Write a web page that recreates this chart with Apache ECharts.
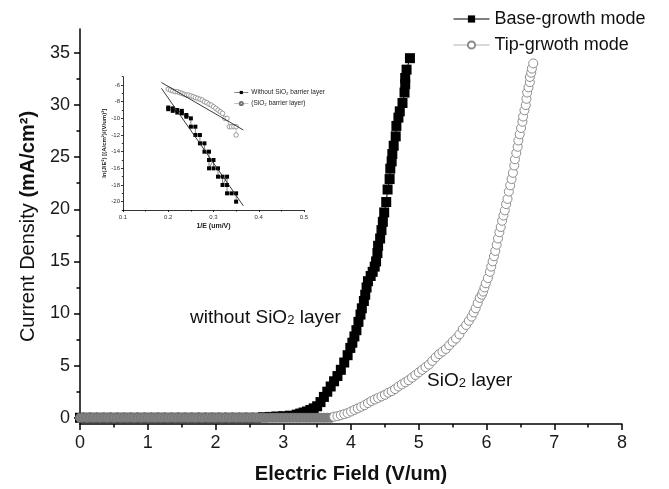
<!DOCTYPE html>
<html>
<head>
<meta charset="utf-8">
<script src="https://cdn.jsdelivr.net/npm/echarts@6/dist/echarts.min.js"></script>
<style>html,body{margin:0;padding:0;background:#fff}#c{width:669px;height:489px}</style>
</head>
<body>
<div id="c"></div>
<script>
// ---------- DATA ----------
const xTickValues = [0, 1, 2, 3, 4, 5, 6, 7, 8];
const yTickValues = [0, 5, 10, 15, 20, 25, 30, 35];
const yMinorTickValues = [2.5, 7.5, 12.5, 17.5, 22.5, 27.5, 32.5];
const insetYTickValues = [-20, -18, -16, -14, -12, -10, -8, -6];
const insetYMinorTickValues = [-21, -19, -17, -15, -13, -11, -9, -7, -5];

const seriesNames = ['Base-growth mode', 'Tip-grwoth mode'];
const insetNames = ['Without SiO\u2082 barrier layer', '(SiO\u2082 barrier layer)'];

// Base-growth mode (black squares): [E (V/um), J (mA/cm2)]
const baseGrowth = [
  [0,0],[0.1,0],[0.2,0],[0.3,0],[0.4,0],[0.5,0],[0.6,0],[0.7,0],[0.8,0],[0.9,0],
  [1.0,0],[1.1,0],[1.2,0],[1.3,0],[1.4,0],[1.5,0],[1.6,0],[1.7,0],[1.8,0],[1.9,0],
  [2.0,0],[2.1,0],[2.2,0],[2.3,0],[2.4,0],[2.5,0],[2.6,0],
  [2.7,0.05],[2.8,0.08],[2.9,0.12],[3.0,0.15],[3.1,0.2],[3.2,0.3],[3.25,0.4],[3.3,0.5],
  [3.35,0.6],[3.4,0.75],[3.45,0.9],[3.5,1.1],[3.55,1.5],[3.6,2.0],[3.65,2.5],[3.7,3.0],
  [3.75,3.5],[3.8,4.0],[3.85,4.6],[3.9,5.3],[3.95,6.0],[3.99,6.7],[4.02,7.2],[4.05,7.8],
  [4.08,8.4],[4.11,9.2],[4.14,9.9],[4.16,10.5],[4.19,11.2],[4.21,11.8],[4.23,12.5],
  [4.25,13.1],[4.29,13.6],[4.32,14.0],[4.35,14.5],[4.37,15.0],[4.39,15.8],[4.40,16.5],
  [4.43,17.2],[4.45,18.0],[4.47,18.8],[4.49,19.7],[4.52,20.7],[4.54,21.9],[4.57,22.9],
  [4.58,23.9],[4.60,24.6],[4.61,25.3],[4.63,26.1],[4.66,27.0],[4.67,28.0],[4.70,28.8],
  [4.72,29.4],[4.76,30.2],[4.79,31.2],[4.80,32.0],[4.80,32.6],[4.82,33.4],[4.87,34.5]
];

// Tip-growth mode (open circles)
const tipGrowth = [
  [0,0],[0.05,0],[0.1,0],[0.15,0],[0.2,0],[0.25,0],[0.3,0],[0.35,0],[0.4,0],[0.45,0],
  [0.5,0],[0.55,0],[0.6,0],[0.65,0],[0.7,0],[0.75,0],[0.8,0],[0.85,0],[0.9,0],[0.95,0],
  [1.0,0],[1.05,0],[1.1,0],[1.15,0],[1.2,0],[1.25,0],[1.3,0],[1.35,0],[1.4,0],[1.45,0],
  [1.5,0],[1.55,0],[1.6,0],[1.65,0],[1.7,0],[1.75,0],[1.8,0],[1.85,0],[1.9,0],[1.95,0],
  [2.0,0],[2.05,0],[2.1,0],[2.15,0],[2.2,0],[2.25,0],[2.3,0],[2.35,0],[2.4,0],[2.45,0],
  [2.5,0],[2.55,0],[2.6,0],[2.65,0],[2.7,0],[2.75,0],[2.8,0],[2.85,0],[2.9,0],[2.95,0],
  [3.0,0],[3.05,0],[3.1,0],[3.15,0],[3.2,0],[3.25,0],[3.3,0],[3.35,0],[3.4,0],[3.45,0],
  [3.5,0],[3.55,0],[3.6,0],[3.65,0],[3.7,0],
  [3.75,0.1],[3.8,0.15],[3.85,0.25],[3.9,0.35],[3.95,0.45],[4.0,0.6],[4.05,0.75],
  [4.1,0.9],[4.15,1.05],[4.2,1.2],[4.25,1.4],[4.3,1.6],[4.35,1.75],[4.4,1.9],[4.45,2.05],
  [4.5,2.2],[4.55,2.4],[4.6,2.55],[4.65,2.75],[4.7,3.0],[4.75,3.2],[4.8,3.4],[4.85,3.6],
  [4.9,3.85],[4.95,4.1],[5.0,4.35],[5.05,4.6],[5.1,4.85],[5.15,5.1],[5.2,5.45],[5.25,5.8],
  [5.3,6.1],[5.35,6.35],[5.4,6.6],[5.45,6.95],[5.5,7.3],[5.55,7.6],[5.6,8.0],[5.65,8.5],
  [5.7,8.9],[5.74,9.3],[5.78,9.7],[5.81,10.1],[5.84,10.5],[5.87,11.0],[5.90,11.5],
  [5.93,11.8],[5.95,12.1],[5.97,12.5],[5.99,12.9],[6.02,13.4],[6.05,14.0],[6.07,14.5],
  [6.09,15.0],[6.11,15.5],[6.13,16.0],[6.15,16.6],[6.17,17.2],[6.19,17.8],[6.21,18.3],
  [6.23,18.9],[6.25,19.4],[6.27,19.9],[6.29,20.5],[6.31,21.0],[6.33,21.7],[6.35,22.3],
  [6.37,22.9],[6.39,23.5],[6.41,24.2],[6.42,24.8],[6.44,25.4],[6.46,26.0],[6.47,26.6],
  [6.49,27.2],[6.51,27.8],[6.53,28.4],[6.54,28.9],[6.56,29.5],[6.58,30.0],[6.59,30.6],
  [6.60,31.2],[6.62,31.7],[6.64,32.2],[6.64,32.7],[6.66,33.1],[6.67,33.5],[6.69,34.0]
];

// Inset: Fowler-Nordheim plot [1/E (um/V), ln(J/E^2)]
const insetWithout = [
  [0.200,-8.7],[0.200,-8.9],[0.210,-8.8],[0.210,-9.1],[0.220,-9.0],[0.220,-9.3],
  [0.230,-9.1],[0.230,-9.4],[0.240,-9.6],[0.240,-9.8],[0.250,-10.0],[0.250,-11.0],
  [0.260,-11.0],[0.260,-12.0],[0.270,-12.0],[0.270,-13.0],[0.280,-13.0],[0.280,-14.0],
  [0.290,-14.0],[0.290,-15.0],[0.290,-16.0],[0.300,-15.0],[0.300,-16.0],[0.310,-16.0],
  [0.310,-17.0],[0.320,-17.0],[0.320,-18.0],[0.330,-17.0],[0.330,-18.0],[0.330,-19.0],
  [0.340,-19.0],[0.350,-19.0],[0.350,-20.0]
];
const insetBarrier = [
  [0.200,-6.5],[0.205,-6.6],[0.210,-6.7],[0.215,-6.8],[0.220,-6.8],[0.225,-6.9],
  [0.230,-7.0],[0.235,-7.1],[0.240,-7.2],[0.245,-7.2],[0.250,-7.3],[0.255,-7.4],
  [0.260,-7.5],[0.265,-7.6],[0.270,-7.7],[0.275,-7.8],[0.280,-8.0],[0.285,-8.1],
  [0.290,-8.3],[0.295,-8.4],[0.300,-8.6],[0.305,-8.8],[0.310,-9.0],[0.315,-9.2],
  [0.320,-9.4],[0.325,-10.0],[0.330,-10.0],[0.335,-11.0],[0.340,-11.0],[0.345,-11.0],
  [0.350,-11.0],[0.350,-12.0]
];
const fitWithout = [[0.185,-6.4],[0.366,-20.5]];
const fitBarrier = [[0.185,-5.7],[0.366,-11.4]];

// ---------- CHART ----------
const FONT = '"Liberation Sans", Arial, sans-serif';
const chart = echarts.init(document.getElementById('c'), null, {renderer: 'canvas'});

const tipData = tipGrowth.map(p => p[1] === 0
  ? {value: p, itemStyle: {color: '#808080', borderColor: '#777'}}
  : {value: p});

const axisLineStyle = {color: '#000', width: 1.5};

const option = {
  animation: false,
  backgroundColor: '#fff',
  textStyle: {fontFamily: FONT},
  grid: [
    {left: 80, right: 47, top: 29, bottom: 62.7},
    {left: 123, right: 365, top: 76.7, bottom: 279}
  ],
  legend: [
    {
      data: seriesNames, orient: 'vertical', left: 448, top: 5,
      itemWidth: 36, itemHeight: 9, itemGap: 8,
      lineStyle: {width: 1},
      textStyle: {fontSize: 18, color: '#111', fontFamily: FONT}
    },
    {
      data: insetNames, orient: 'vertical', left: 229, top: 84,
      itemWidth: 14, itemHeight: 4, itemGap: 4,
      lineStyle: {width: 0.6},
      textStyle: {fontSize: 6.5, color: '#222', fontFamily: FONT, padding: [0,0,0,-2]}
    }
  ],
  xAxis: [
    {
      gridIndex: 0, type: 'value', min: 0, max: 8, interval: 1,
      axisLine: {onZero: false, lineStyle: axisLineStyle},
      axisTick: {length: 6, lineStyle: axisLineStyle},
      minorTick: {show: true, splitNumber: 2, length: 3.5, lineStyle: axisLineStyle},
      axisLabel: {fontSize: 18, color: '#1a1a1a', margin: 10},
      splitLine: {show: false},
      name: 'Electric Field (V/um)', nameLocation: 'middle', nameGap: 40,
      nameTextStyle: {fontSize: 20, fontWeight: 'bold', color: '#111'}
    },
    {
      gridIndex: 1, type: 'value', min: 0.1, max: 0.5, interval: 0.1,
      axisLine: {onZero: false, lineStyle: {color: '#000', width: 0.8}},
      axisTick: {length: 2, lineStyle: {color: '#000', width: 0.8}},
      minorTick: {show: true, splitNumber: 2, length: 1.5, lineStyle: {color: '#000', width: 0.8}},
      axisLabel: {fontSize: 6, color: '#333', margin: 4},
      splitLine: {show: false},
      name: '1/E (um/V)', nameLocation: 'middle', nameGap: 13,
      nameTextStyle: {fontSize: 7, fontWeight: 'bold', color: '#222'}
    }
  ],
  yAxis: [
    {
      gridIndex: 0, type: 'value', min: -0.6, max: 37.3,
      axisLine: {show: true, onZero: false, lineStyle: axisLineStyle},
      axisTick: {show: true, length: 6, customValues: yTickValues, lineStyle: axisLineStyle},
      axisLabel: {fontSize: 18, color: '#1a1a1a', margin: 10, customValues: yTickValues},
      splitLine: {show: false},
      name: 'Current Density {b|(mA/cm\u00B2)}', nameLocation: 'middle', nameGap: 42,
      nameTextStyle: {fontSize: 20, color: '#111', rich: {b: {fontSize: 20, fontWeight: 'bold', color: '#111'}}}
    },
    {
      gridIndex: 0, type: 'value', min: -0.6, max: 37.3, position: 'left',
      axisLine: {show: false},
      axisTick: {show: true, length: 3.5, customValues: yMinorTickValues, lineStyle: axisLineStyle},
      axisLabel: {show: false},
      splitLine: {show: false}
    },
    {
      gridIndex: 1, type: 'value', min: -21, max: -5,
      axisLine: {show: true, onZero: false, lineStyle: {color: '#000', width: 0.8}},
      axisTick: {show: true, length: 2, customValues: insetYTickValues, lineStyle: {color: '#000', width: 0.8}},
      axisLabel: {fontSize: 6, color: '#333', margin: 3, customValues: insetYTickValues},
      splitLine: {show: false},
      name: 'ln(J/E\u00B2) [(A/cm\u00B2)/(V/um)\u00B2]', nameLocation: 'middle', nameGap: 13,
      nameTextStyle: {fontSize: 6, fontWeight: 'bold', color: '#222'}
    },
    {
      gridIndex: 1, type: 'value', min: -21, max: -5, position: 'left',
      axisLine: {show: false},
      axisTick: {show: true, length: 1.2, customValues: insetYMinorTickValues, lineStyle: {color: '#000', width: 0.8}},
      axisLabel: {show: false},
      splitLine: {show: false}
    }
  ],
  series: [
    {
      name: seriesNames[0], type: 'line', xAxisIndex: 0, yAxisIndex: 0,
      data: baseGrowth, symbol: 'rect', symbolSize: 10, showAllSymbol: true,
      itemStyle: {color: '#000'}, lineStyle: {color: '#000', width: 1}, z: 2
    },
    {
      name: seriesNames[1], type: 'line', xAxisIndex: 0, yAxisIndex: 0,
      data: tipData, symbol: 'circle', symbolSize: 9, showAllSymbol: true,
      itemStyle: {color: '#fff', borderColor: '#8c8c8c', borderWidth: 1},
      lineStyle: {color: '#b0b0b0', width: 1}, z: 3
    },
    {
      name: insetNames[0], type: 'line', xAxisIndex: 1, yAxisIndex: 2,
      data: insetWithout, symbol: 'rect', symbolSize: 4, showAllSymbol: true,
      itemStyle: {color: '#000'}, lineStyle: {color: '#333', width: 0.6}, z: 4
    },
    {
      name: insetNames[1], type: 'line', xAxisIndex: 1, yAxisIndex: 2,
      data: insetBarrier, symbol: 'circle', symbolSize: 4.5, showAllSymbol: true,
      itemStyle: {color: '#fff', borderColor: '#777', borderWidth: 0.7},
      lineStyle: {color: '#999', width: 0.6}, z: 4
    },
    {
      name: 'fitWithout', type: 'line', xAxisIndex: 1, yAxisIndex: 2,
      data: fitWithout, symbol: 'none', lineStyle: {color: '#222', width: 0.9}, z: 5
    },
    {
      name: 'fitBarrier', type: 'line', xAxisIndex: 1, yAxisIndex: 2,
      data: fitBarrier, symbol: 'none', lineStyle: {color: '#222', width: 0.9}, z: 5
    }
  ],
  graphic: [
    {
      type: 'text', left: 190, top: 308, z: 10,
      style: {
        text: '{a|without SiO}{s|2}{a| layer}',
        rich: {
          a: {fontSize: 19, fontFamily: FONT, fill: '#111', verticalAlign: 'bottom', lineHeight: 22},
          s: {fontSize: 13, fontFamily: FONT, fill: '#111', verticalAlign: 'bottom', lineHeight: 22}
        }
      }
    },
    {
      type: 'text', left: 427, top: 371, z: 10,
      style: {
        text: '{a|SiO}{s|2}{a| layer}',
        rich: {
          a: {fontSize: 19, fontFamily: FONT, fill: '#111', verticalAlign: 'bottom', lineHeight: 22},
          s: {fontSize: 13, fontFamily: FONT, fill: '#111', verticalAlign: 'bottom', lineHeight: 22}
        }
      }
    }
  ]
};
chart.setOption(option);
</script>
</body>
</html>
